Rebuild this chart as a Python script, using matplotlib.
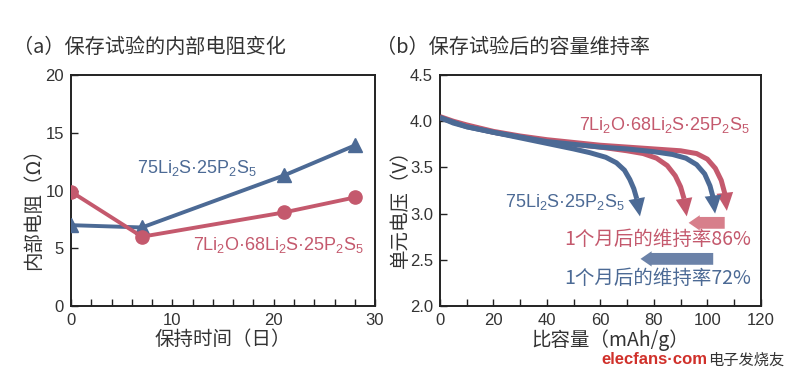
import matplotlib
matplotlib.use('Agg')
import matplotlib.pyplot as plt
from matplotlib.ticker import MultipleLocator, FormatStrFormatter

plt.rcParams['font.family'] = ['Noto Sans CJK SC', 'DejaVu Sans']
plt.rcParams['mathtext.fontset'] = 'custom'
plt.rcParams['mathtext.rm'] = 'Liberation Sans'
plt.rcParams['mathtext.it'] = 'Liberation Sans:italic'
plt.rcParams['mathtext.bf'] = 'Liberation Sans:bold'

BLUE = '#4c6a95'
RED = '#c4596d'
BLUE_L = '#6b82a8'
RED_L = '#d77f8b'
DARK = '#333333'

# (a) internal resistance vs storage days
days = [0, 7, 21, 28]
r_75 = [7.0, 6.8, 11.3, 13.9]
r_7li2o = [9.9, 6.0, 8.1, 9.4]

# (b) discharge curves (capacity mAh/g, voltage V), last point = arrow tip
cap_75_month = [0, 5, 10, 20, 30, 40, 50, 56, 62, 66, 69, 71, 72.5, 73.6, 74.8]
v_75_month = [4.04, 3.98, 3.94, 3.88, 3.82, 3.76, 3.70, 3.66, 3.61, 3.55, 3.47, 3.37, 3.27, 3.16, 2.97]
cap_7_month = [0, 5, 10, 20, 30, 40, 50, 60, 70, 76, 81, 85, 88, 90, 91.3, 92.3]
v_7_month = [4.04, 3.99, 3.95, 3.88, 3.83, 3.79, 3.75, 3.72, 3.68, 3.65, 3.60, 3.52, 3.41, 3.29, 3.16, 2.97]
cap_75_fresh = [0, 5, 10, 20, 30, 40, 50, 60, 70, 80, 87, 92, 96, 99, 101, 102.2, 102.9]
v_75_fresh = [4.04, 3.99, 3.94, 3.88, 3.83, 3.78, 3.75, 3.72, 3.70, 3.67, 3.64, 3.60, 3.53, 3.43, 3.30, 3.17, 3.0]
cap_7_fresh = [0, 5, 10, 20, 30, 40, 50, 60, 70, 80, 90, 96, 100, 103, 105.2, 106.6, 107.3]
v_7_fresh = [4.05, 4.0, 3.96, 3.89, 3.84, 3.80, 3.77, 3.74, 3.72, 3.70, 3.68, 3.65, 3.59, 3.49, 3.36, 3.21, 3.03]

# retention arrows: (start capacity, end capacity, voltage)
ret_86 = (106.5, 93.0, 2.90)
ret_72 = (102.2, 75.0, 2.51)

lbl_75 = r'75Li$_2$S·25P$_2$S$_5$'
lbl_7 = r'7Li$_2$O·68Li$_2$S·25P$_2$S$_5$'
LAT = ['Liberation Sans', 'DejaVu Sans']

fig = plt.figure(figsize=(8, 3.78), dpi=100)
ax1 = fig.add_axes([0.0888, 0.1905, 0.38, 0.611])
ax2 = fig.add_axes([0.55, 0.1905, 0.401, 0.611])

for ax in (ax1, ax2):
    for s in ax.spines.values():
        s.set_color('#222222')
        s.set_linewidth(1.4)
    ax.tick_params(which='both', direction='in', length=5, width=1,
                   colors='#222222', labelcolor=DARK, labelsize=12, pad=5,
                   labelfontfamily='Liberation Sans')

# ---- (a)
ax1.plot(days, r_75, color=BLUE, lw=2.8, marker='^', ms=9.5, zorder=3)
ax1.plot(days, r_7li2o, color=RED, lw=2.8, marker='o', ms=9.5, zorder=3)
ax1.set_xlim(0, 30)
ax1.set_ylim(0, 20)
ax1.xaxis.set_major_locator(MultipleLocator(10))
ax1.xaxis.set_minor_locator(MultipleLocator(2))
ax1.yaxis.set_major_locator(MultipleLocator(5))
ax1.set_xlabel('保持时间（日）', fontsize=14, color=DARK, labelpad=1)
ax1.set_ylabel('内部电阻（Ω）', fontsize=14, color=DARK)
ax1.yaxis.set_label_coords(-0.09, 0.44)
ax1.text(6.5, 11.95, lbl_75, color=BLUE, fontsize=13, va='center', family=LAT)
ax1.text(12.0, 5.3, lbl_7, color=RED, fontsize=13, va='center', family=LAT)
ax1.set_title('（a）保存试验的内部电阻变化', fontsize=14.5, color=DARK,
              loc='left', x=-0.19, pad=16)

# ---- (b)
curves = [(cap_7_fresh, v_7_fresh, RED), (cap_7_month, v_7_month, RED),
          (cap_75_fresh, v_75_fresh, BLUE), (cap_75_month, v_75_month, BLUE)]
for cx, cy, c in curves:
    ax2.plot(cx[:-1], cy[:-1], color=c, lw=3.6, solid_capstyle='butt',
             solid_joinstyle='round', zorder=3)
    ax2.annotate('', xy=(cx[-1], cy[-1]), xytext=(cx[-2], cy[-2]),
                 arrowprops=dict(arrowstyle='-|>,head_length=13,head_width=6',
                                 mutation_scale=1, lw=0, color=c,
                                 shrinkA=0, shrinkB=0), zorder=4)

for (x0, x1, yv), c in ((ret_86, RED_L), (ret_72, BLUE_L)):
    ax2.annotate('', xy=(x1, yv), xytext=(x0, yv),
                 arrowprops=dict(arrowstyle='simple,head_length=8,head_width=11,tail_width=8.5',
                                 mutation_scale=1, lw=0, color=c,
                                 shrinkA=0, shrinkB=0))

ax2.set_xlim(0, 120)
ax2.set_ylim(2.0, 4.5)
ax2.xaxis.set_major_locator(MultipleLocator(20))
ax2.xaxis.set_minor_locator(MultipleLocator(10))
ax2.yaxis.set_major_locator(MultipleLocator(0.5))
ax2.yaxis.set_major_formatter(FormatStrFormatter('%.1f'))
ax2.set_xlabel('比容量（mAh/g）', fontsize=14, color=DARK, labelpad=1)
ax2.xaxis.set_label_coords(0.53, -0.1)
ax2.set_ylabel('单元电压（V）', fontsize=14, color=DARK)
ax2.yaxis.set_label_coords(-0.09, 0.44)
ax2.text(52, 3.96, lbl_7, color=RED, fontsize=13, va='center', family=LAT)
ax2.text(24.3, 3.13, lbl_75, color=BLUE, fontsize=13, va='center', family=LAT)
ax2.text(46.5, 2.72, '1个月后的维持率86%', color=RED, fontsize=14, va='center')
ax2.text(46.5, 2.30, '1个月后的维持率72%', color=BLUE, fontsize=14, va='center')
ax2.set_title('（b）保存试验后的容量维持率', fontsize=14.5, color=DARK,
              loc='left', x=-0.2, pad=16)

# watermark
fig.text(0.752, 0.048, 'elecfans·com', color='#d0302a', fontsize=12,
         fontweight='bold', va='center', family=LAT)
fig.text(0.885, 0.048, '电子发烧友', color='#333333', fontsize=11, va='center')

fig.savefig('out.png', dpi=100)
